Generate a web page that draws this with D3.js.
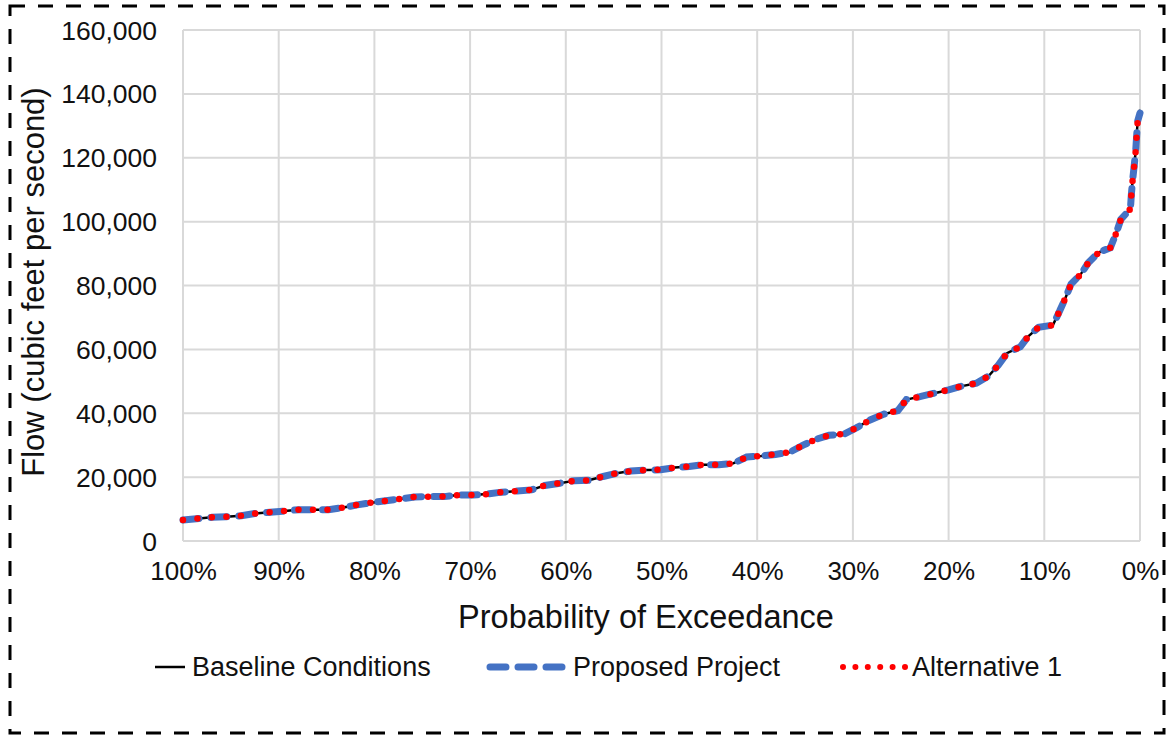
<!DOCTYPE html>
<html>
<head>
<meta charset="utf-8">
<script src="https://cdn.jsdelivr.net/npm/d3@7"></script>
<style>
  html, body { margin: 0; padding: 0; background: #fff; }
  svg { display: block; font-family: "Liberation Sans", Arial, sans-serif; }
</style>
</head>
<body>
<svg id="chart" width="1167" height="736"></svg>
<script>
// Probability of exceedance (%)
const exceedance = [100, 98.6, 97.0, 95.5, 93.9, 92.5, 90.9, 89.4, 87.9, 86.4, 84.8, 83.4, 81.8, 80.3, 78.8, 77.2, 75.8, 74.2, 72.7, 71.2, 69.7, 68.2, 66.7, 65.2, 63.6, 62.2, 60.6, 59.1, 57.6, 56.1, 54.7, 53.2, 51.6, 50.1, 48.6, 47.1, 45.6, 44.0, 42.5, 41.1, 39.6, 38.1, 36.6, 35.2, 33.9, 32.5, 30.9, 29.6, 28.2, 26.8, 25.3, 24.4, 23.0, 21.6, 20.0, 18.6, 17.1, 15.8, 14.8, 13.9, 12.5, 11.7, 10.6, 9.1, 8.4, 7.8, 7.2, 6.2, 5.4, 4.3, 3.1, 2.5, 2.0, 1.0, 0.9, 0.77, 0.6, 0.45, 0.35, 0.24, 0];

// Flow (cfs)
const baseline = [6600, 7000, 7400, 7600, 7900, 8600, 9000, 9400, 9800, 9800, 9800, 10400, 11300, 12000, 12600, 13200, 13800, 13900, 13900, 14400, 14400, 14700, 15300, 15600, 16000, 17400, 18100, 18900, 19000, 20200, 21200, 21900, 22200, 22300, 23000, 23300, 23900, 23900, 24300, 26300, 26600, 27100, 27800, 30000, 31800, 33100, 33500, 35500, 37900, 39700, 40800, 44300, 45200, 46200, 47300, 48500, 49400, 51700, 55100, 58800, 60800, 64000, 66900, 67600, 72000, 76000, 80500, 83500, 87100, 90400, 91800, 96300, 100700, 104000, 108600, 113000, 117700, 122100, 126900, 131500, 135000];
const proposed = [6600, 7000, 7400, 7600, 7900, 8600, 9000, 9400, 9800, 9800, 9800, 10400, 11300, 12000, 12600, 13200, 13800, 13900, 13900, 14400, 14400, 14700, 15300, 15600, 16000, 17400, 18100, 18900, 19000, 20200, 21200, 21900, 22200, 22300, 23000, 23300, 23900, 23900, 24300, 26300, 26600, 27100, 27800, 30000, 31800, 33100, 33500, 35500, 37900, 39700, 40800, 44300, 45200, 46200, 47300, 48500, 49400, 51700, 55100, 58800, 60800, 64000, 66900, 67600, 72000, 76000, 80500, 83500, 87100, 90400, 91800, 96300, 100700, 104000, 108600, 113000, 117700, 122100, 126900, 131500, 134000];
const alternative1 = [6600, 7000, 7400, 7600, 7900, 8600, 9000, 9400, 9800, 9800, 9800, 10400, 11300, 12000, 12600, 13200, 13800, 13900, 13900, 14400, 14400, 14700, 15300, 15600, 16000, 17400, 18100, 18900, 19000, 20200, 21200, 21900, 22200, 22300, 23000, 23300, 23900, 23900, 24300, 26300, 26600, 27100, 27800, 30000, 31800, 33100, 33500, 35500, 37900, 39700, 40800, 44300, 45200, 46200, 47300, 48500, 49400, 51700, 55100, 58800, 60800, 64000, 66900, 67600, 72000, 76000, 80500, 83500, 87100, 90400, 91800, 96300, 100700, 104000, 108600, 113000, 117700, 122100, 126900, 131500, 133000];

const xTicks = [100, 90, 80, 70, 60, 50, 40, 30, 20, 10, 0];
const yTicks = [0, 20000, 40000, 60000, 80000, 100000, 120000, 140000, 160000];

const seriesNames = ["Baseline Conditions", "Proposed Project", "Alternative 1"];

const svg = d3.select("#chart");
const txtCol = "#111";

// outer dashed border
svg.append("rect")
  .attr("x", 10).attr("y", 6).attr("width", 1154).attr("height", 727)
  .attr("fill", "none").attr("stroke", "#000").attr("stroke-width", 3)
  .attr("stroke-dasharray", "15 13");

const x = d3.scaleLinear().domain([100, 0]).range([183, 1140]);
const y = d3.scaleLinear().domain([0, 160000]).range([541, 30]);

// gridlines
const grid = svg.append("g");
grid.selectAll("line.h").data(yTicks).join("line")
  .attr("x1", x(100)).attr("x2", x(0))
  .attr("y1", d => y(d)).attr("y2", d => y(d))
  .attr("stroke", "#d9d9d9").attr("stroke-width", 2);
grid.selectAll("line.v").data(xTicks).join("line")
  .attr("x1", d => x(d)).attr("x2", d => x(d))
  .attr("y1", y(0)).attr("y2", y(160000))
  .attr("stroke", "#d9d9d9").attr("stroke-width", 2);

// axes (labels only)
const yAxis = svg.append("g").attr("transform", `translate(${x(100) - 26},0)`)
  .call(d3.axisLeft(y).tickValues(yTicks).tickFormat(d3.format(",")).tickSize(0).tickPadding(0));
yAxis.select(".domain").remove();
yAxis.selectAll("text").attr("font-size", 26.5).attr("fill", txtCol)
  .attr("font-family", "'Liberation Sans', Arial, sans-serif").attr("dy", "0.34em");

const xAxis = svg.append("g").attr("transform", `translate(0,${y(0) + 20})`)
  .call(d3.axisBottom(x).tickValues(xTicks).tickFormat(d => d + "%").tickSize(0).tickPadding(0));
xAxis.select(".domain").remove();
xAxis.selectAll("text").attr("font-size", 26).attr("fill", txtCol)
  .attr("font-family", "'Liberation Sans', Arial, sans-serif").attr("dy", "0.72em");

// axis titles
svg.append("text").attr("x", 646).attr("y", 617).attr("dy", "0.35em")
  .attr("text-anchor", "middle").attr("font-size", 32.5).attr("fill", txtCol)
  .text("Probability of Exceedance");
svg.append("text").attr("transform", "translate(33,282) rotate(-90)").attr("dy", "0.35em")
  .attr("text-anchor", "middle").attr("font-size", 31).attr("fill", txtCol)
  .text("Flow (cubic feet per second)");

// lines
const line = d3.line().x(d => x(d[0])).y(d => y(d[1]));
const mk = vals => exceedance.map((p, i) => [p, vals[i]]);

svg.append("path").attr("d", line(mk(baseline)))
  .attr("fill", "none").attr("stroke", "#000").attr("stroke-width", 2.5);
svg.append("path").attr("d", line(mk(proposed)))
  .attr("fill", "none").attr("stroke", "#4472C4").attr("stroke-width", 7)
  .attr("stroke-linecap", "round").attr("stroke-dasharray", "16 12");
svg.append("path").attr("d", line(mk(alternative1)))
  .attr("fill", "none").attr("stroke", "#FF0000").attr("stroke-width", 6.5)
  .attr("stroke-linecap", "round").attr("stroke-dasharray", "0 14.5");

// legend
const legY = 667;
const leg = [
  { name: seriesNames[0], x1: 155, x2: 185, tx: 192, stroke: "#000", w: 2.5, dash: null, cap: "butt" },
  { name: seriesNames[1], x1: 490, x2: 562, tx: 573, stroke: "#4472C4", w: 7, dash: "16 12", cap: "round" },
  { name: seriesNames[2], x1: 843, x2: 905, tx: 912, stroke: "#FF0000", w: 6, dash: "0 12.4", cap: "round" }
];
leg.forEach(l => {
  const ln = svg.append("line").attr("x1", l.x1).attr("x2", l.x2).attr("y1", legY).attr("y2", legY)
    .attr("stroke", l.stroke).attr("stroke-width", l.w).attr("stroke-linecap", l.cap);
  if (l.dash) ln.attr("stroke-dasharray", l.dash);
  svg.append("text").attr("x", l.tx).attr("y", legY).attr("dy", "0.35em")
    .attr("font-size", 27).attr("fill", txtCol).text(l.name);
});
</script>
</body>
</html>
